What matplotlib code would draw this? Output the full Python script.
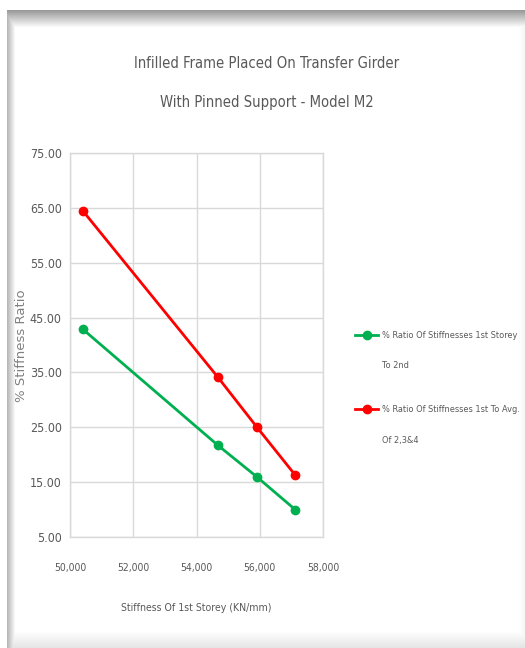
import re
import numpy as np
import matplotlib
matplotlib.use("Agg")
import matplotlib.pyplot as plt
from matplotlib import font_manager as fm

# Stiffness of the 1st storey (KN/mm) for each model variant
stiffness = [50400, 54680, 55900, 57120]
# % ratio of 1st storey stiffness to 2nd storey
ratio_1st_to_2nd = [42.9, 21.7, 16.0, 10.0]
# % ratio of 1st storey stiffness to average of storeys 2, 3 & 4
ratio_1st_to_avg = [64.5, 34.1, 25.1, 16.3]

series_labels = [
    "% Ratio Of Stiffnesses 1st Storey\nTo 2nd",
    "% Ratio Of Stiffnesses 1st To Avg.\nOf 2,3&4",
]
x_ticks = [50000, 52000, 54000, 56000, 58000]
x_tick_labels = ["50,000", "52,000", "54,000", "56,000", "58,000"]
y_ticks = [5, 15, 25, 35, 45, 55, 65, 75]
y_tick_labels = ["5.00", "15.00", "25.00", "35.00", "45.00", "55.00", "65.00", "75.00"]
title_lines = ["Infilled Frame Placed On Transfer Girder",
               "With Pinned Support - Model M2"]
x_label = "Stiffness Of 1st Storey (KN/mm)"
y_label = "% Stiffness Ratio"

TEXT_GREY = "#595959"
GRID_GREY = "#D9D9D9"
GREEN = "#00B050"
RED = "#FF0000"


def find_narrow_font():
    """Path of the narrowest installed regular proportional sans face, or None."""
    prefs = ["Liberation Sans", "Noto Sans", "Open Sans", "DejaVu Sans",
             "Roboto", "Lato", "Inter", "Noto Sans Display"]
    width_words = r"\b(Ultra|Extra|Semi)?\s?(Condensed|Narrow|Cond)\b"
    best = None
    for f in fm.fontManager.ttflist:
        if f.style != "normal":
            continue
        if str(f.weight).lower() not in ("400", "normal", "regular", "book"):
            continue
        base = re.sub(width_words, "", f.name, flags=re.I).strip()
        if base not in prefs:
            continue
        fn = f.fname.lower().replace("-", "").replace("_", "")
        if "mono" in fn or "serif" in fn:
            continue
        if "ultracondensed" in fn:
            rank = 0
        elif "extracondensed" in fn:
            rank = 1
        elif "narrow" in fn or "narrow" in f.name.lower():
            rank = 2
        elif "semicondensed" in fn:
            rank = 4
        elif "condensed" in fn or f.stretch != "normal":
            rank = 3
        else:
            continue
        key = (rank, prefs.index(base))
        if best is None or key < best[0]:
            best = (key, f.fname)
    return best[1] if best else None


narrow_path = find_narrow_font()


def nfont(size=10):
    if narrow_path:
        return fm.FontProperties(fname=narrow_path, size=size)
    return fm.FontProperties(family="DejaVu Sans", size=size)


W, H = 525, 648
fig = plt.figure(figsize=(W / 100, H / 100), dpi=100)
renderer = fig.canvas.get_renderer()


def fitted(text, fp, target_px):
    """Font size at which `text` spans target_px pixels horizontally."""
    t = fig.text(0, 0, text, fontproperties=fp)
    bb = t.get_window_extent(renderer)
    t.remove()
    return fp.get_size() * target_px / bb.width


# Card background with soft shadowed edges
yy = np.arange(H)[:, None] * np.ones((1, W))
xx = np.ones((H, 1)) * np.arange(W)[None, :]
top = np.where(yy < 10, 1.0, 0.60 + 0.40 * np.clip((yy - 10) / 17.0, 0, 1))
left = np.where(xx < 7, 1.0, 0.72 + 0.28 * np.clip((xx - 7) / 8.0, 0, 1))
bottom = 0.90 + 0.10 * np.clip((H - 1 - yy) / 16.0, 0, 1)
right = 0.97 + 0.03 * np.clip((W - 1 - xx) / 6.0, 0, 1)
bg = np.minimum.reduce([top, left, bottom, right])
bg = np.where((yy < 10) | (xx < 7), 1.0, bg)
bg_ax = fig.add_axes([0, 0, 1, 1], zorder=-1)
bg_ax.imshow(np.dstack([bg, bg, bg]), aspect="auto", interpolation="bilinear")
bg_ax.axis("off")

# Font sizes fitted to the text widths of the layout
title_size = fitted(title_lines[0], nfont(), 265)
ytick_size = fitted("15.00", nfont(), 32)
xtick_size = fitted("50,000", nfont(), 33)
xlabel_size = fitted(x_label, nfont(), 151)
legend_size = fitted(series_labels[0].split("\n")[0], nfont(), 136)

# Plot area
ax = fig.add_axes([70 / W, (H - 537) / H, 253 / W, 384 / H])
ax.set_facecolor("none")
line_a, = ax.plot(stiffness, ratio_1st_to_2nd, color=GREEN, lw=2.0, marker="o",
                  ms=6, zorder=3)
line_b, = ax.plot(stiffness, ratio_1st_to_avg, color=RED, lw=2.0, marker="o",
                  ms=6, zorder=3)

ax.set_xlim(50000, 58000)
ax.set_ylim(5, 75)
ax.set_xticks(x_ticks)
ax.set_xticklabels(x_tick_labels, fontproperties=nfont(xtick_size), color=TEXT_GREY)
ax.set_yticks(y_ticks)
ax.set_yticklabels(y_tick_labels, fontproperties=nfont(ytick_size), color=TEXT_GREY)
ax.tick_params(axis="y", length=0, pad=6)
ax.tick_params(axis="x", length=0, pad=19)
ax.grid(True, color=GRID_GREY, lw=1.0)
for s in ax.spines.values():
    s.set_color(GRID_GREY)
    s.set_linewidth(1.0)

fig.text(196 / W, 1 - 608 / H, x_label, ha="center", va="center",
         fontproperties=nfont(xlabel_size), color=TEXT_GREY)
fig.text(22 / W, 1 - 346 / H, y_label, rotation=90, ha="center", va="center",
         fontsize=9.5, color="#808080", family="DejaVu Sans")

for line, ypix in zip(title_lines, (63, 102)):
    fig.text(267 / W, 1 - ypix / H, line, ha="center", va="center",
             fontproperties=nfont(title_size), color=TEXT_GREY)

# Legend: one entry per series; the wrapped second line sits beneath each entry
px_per_em = legend_size * 100 / 72
for handle, label, ypix in zip((line_a, line_b), series_labels, (336, 410)):
    first, second = label.split("\n")
    leg = fig.legend([handle], [first], loc="center left",
                     bbox_to_anchor=(355 / W, 1 - ypix / H),
                     frameon=False, prop=nfont(legend_size),
                     handlelength=23 / px_per_em, handletextpad=4 / px_per_em,
                     borderpad=0, borderaxespad=0)
    for t in leg.get_texts():
        t.set_color(TEXT_GREY)
    fig.text(382 / W, 1 - (ypix + 30) / H, second, ha="left", va="center",
             fontproperties=nfont(legend_size), color=TEXT_GREY)

fig.savefig("out.png", dpi=100)
